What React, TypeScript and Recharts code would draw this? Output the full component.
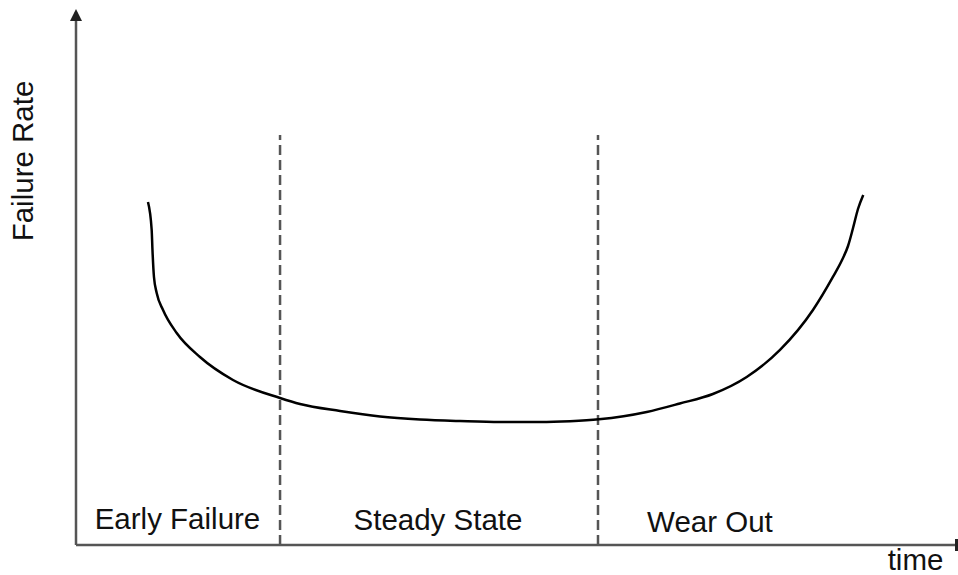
import { LineChart, Line, XAxis, YAxis, ReferenceLine, ReferenceDot } from "recharts";

// bathtub curve, time and rate both on a 0-100 scale
const curveTime = [
  8.17, 8.59, 8.68, 8.85, 9.16, 9.88, 11.43, 14.07, 17.82, 23.16, 25.43, 29.97, 34.51, 39.05, 43.59, 48.13, 52.67,
  56.07, 59.36, 64.78, 68.54, 72.29, 76.13, 79.91, 83.65, 85.93, 86.95, 87.63, 88.2, 88.76, 89.36,
];
const curveRate = [
  64.35, 59.1, 55.35, 50.28, 47.28, 44.09, 39.77, 35.27, 30.96, 27.58, 26.45, 25.14, 24.11, 23.55, 23.26, 23.08, 23.08,
  23.23, 23.58, 24.95, 26.55, 28.33, 31.52, 36.59, 44.09, 50.34, 53.47, 56.1, 59.47, 63.04, 65.67,
];

const phaseNames = ["Early Failure", "Steady State", "Wear Out"];
const phaseLabelTime = [11.52, 41.09, 71.96];
const phaseLabelRate = [3.0, 2.81, 2.44];
const phaseBounds = [23.16, 59.25];
const boundTop = 76.9;

const data = curveTime.map((t, i) => ({ t, rate: curveRate[i] }));

const AXIS = "#555";
const FONT = "'Liberation Sans', Arial, sans-serif";
const FS = 29.5;

const textShape = (label: string) => (p: any) => (
  <text x={p.cx} y={p.cy} textAnchor="middle" fontFamily={FONT} fontSize={FS} fill="#111">
    {label}
  </text>
);

export default function App() {
  return (
    <div style={{ position: "absolute", left: 0, top: 0, background: "#fff" }}>
      <LineChart width={958} height={575} data={data} margin={{ top: 12, right: 1, bottom: 30, left: 76 }}>
        <XAxis type="number" dataKey="t" domain={[0, 100]} allowDataOverflow hide />
        <YAxis type="number" domain={[0, 100]} allowDataOverflow hide />
        {/* axes */}
        <ReferenceLine
          segment={[
            { x: 0, y: 0 },
            { x: 0, y: 100 },
          ]}
          ifOverflow="visible"
          stroke={AXIS}
          strokeWidth={2.5}
        />
        <ReferenceLine
          segment={[
            { x: 0, y: 0 },
            { x: 100, y: 0 },
          ]}
          ifOverflow="visible"
          stroke={AXIS}
          strokeWidth={2.5}
        />
        {phaseBounds.map((b) => (
          <ReferenceLine
            key={b}
            segment={[
              { x: b, y: 0 },
              { x: b, y: boundTop },
            ]}
            stroke={AXIS}
            strokeWidth={2.5}
            strokeDasharray="10 5"
          />
        ))}
        <Line
          type="monotone"
          dataKey="rate"
          stroke="#000"
          strokeWidth={2.5}
          dot={false}
          isAnimationActive={false}
        />
        {phaseNames.map((n, i) => (
          <ReferenceDot key={n} x={phaseLabelTime[i]} y={phaseLabelRate[i]} shape={textShape(n)} />
        ))}
        <ReferenceDot x={95.29} y={-4.7} ifOverflow="visible" shape={textShape("time")} />
        <ReferenceDot
          x={-4.88}
          y={72.05}
          ifOverflow="visible"
          shape={(p: any) => (
            <text
              x={p.cx}
              y={p.cy}
              transform={`rotate(-90, ${p.cx}, ${p.cy})`}
              textAnchor="middle"
              fontFamily={FONT}
              fontSize={FS}
              fill="#111"
            >
              Failure Rate
            </text>
          )}
        />
        {/* axis arrow heads */}
        <ReferenceDot
          x={0}
          y={100}
          ifOverflow="visible"
          shape={(p: any) => (
            <polygon
              points={`${p.cx},${p.cy - 3} ${p.cx - 6},${p.cy + 9} ${p.cx + 6},${p.cy + 9}`}
              fill="#222"
            />
          )}
        />
        <ReferenceDot
          x={100}
          y={0}
          ifOverflow="visible"
          shape={(p: any) => <rect x={p.cx - 2} y={p.cy - 6} width={4} height={12} fill="#222" />}
        />
      </LineChart>
    </div>
  );
}
